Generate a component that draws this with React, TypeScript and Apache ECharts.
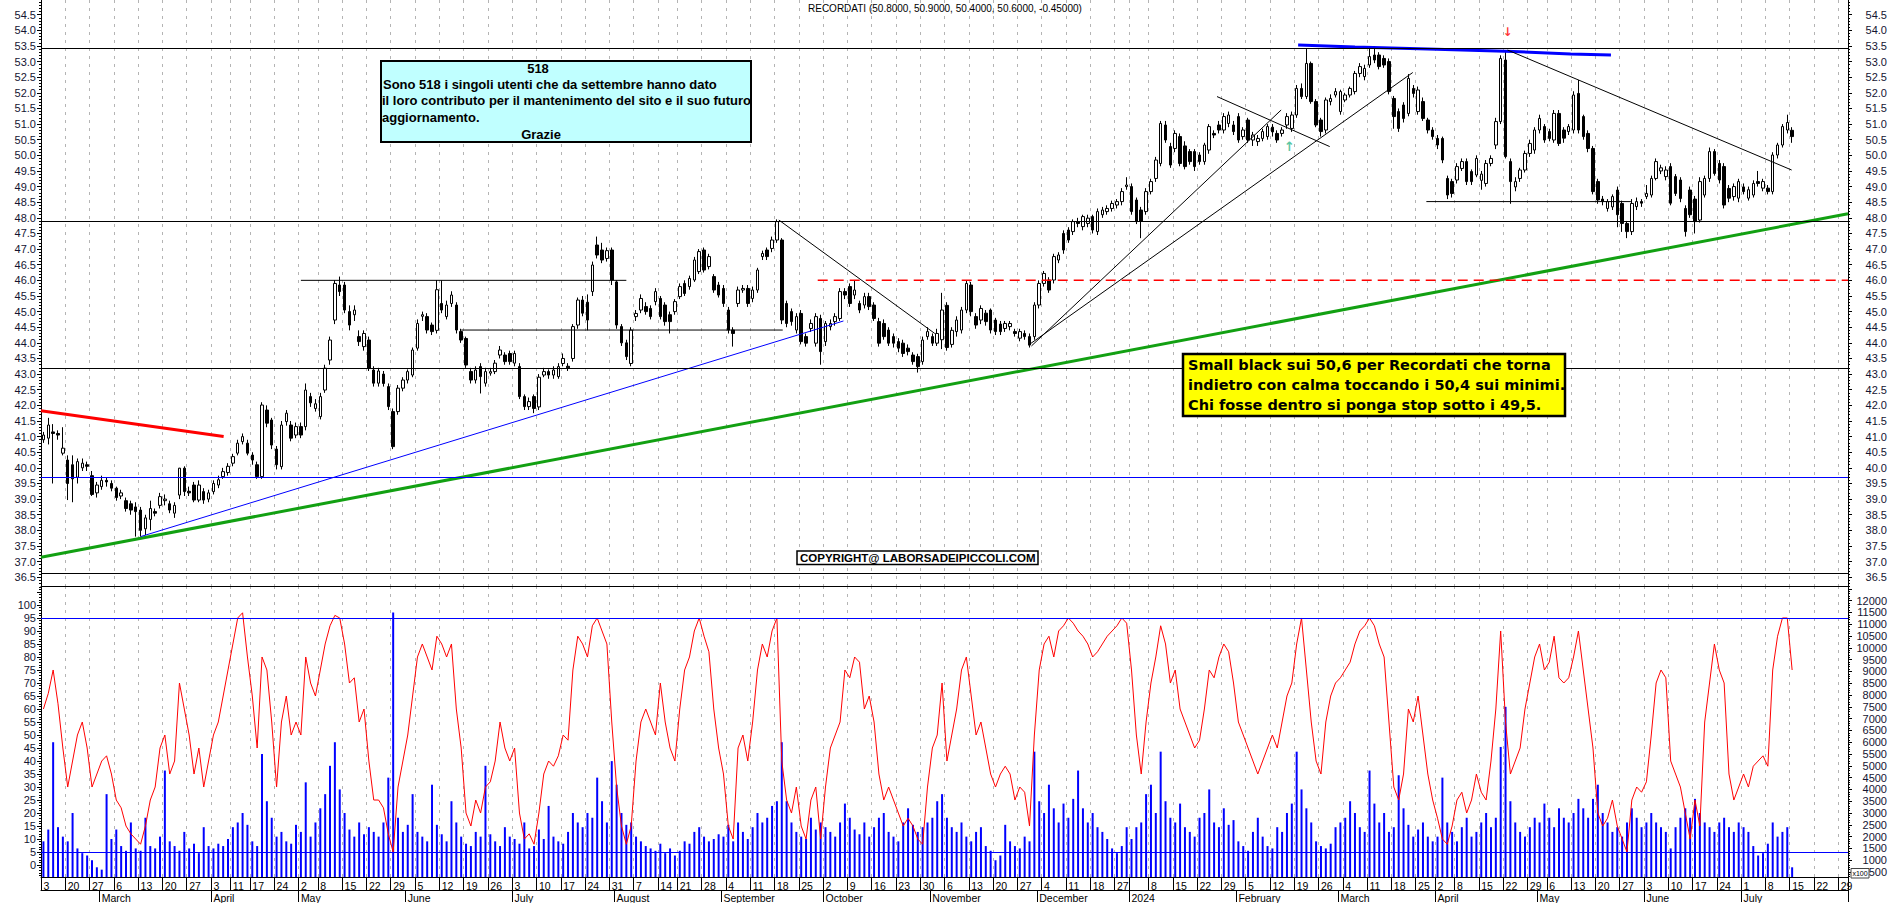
import React, { useEffect, useRef } from 'react';
import * as echarts from 'echarts';

// ---------- calendar (Borsa Italiana trading days) ----------
const FIRST_DAY = [2023, 1, 13];
const LAST_DAY = [2024, 6, 30];
const HOLIDAYS = ['2023-04-07', '2023-04-10', '2023-05-01', '2023-08-15', '2023-12-25', '2023-12-26', '2024-01-01', '2024-03-29', '2024-04-01', '2024-05-01'];
const MONTH_NAMES = ['', 'February', 'March', 'April', 'May', 'June', 'July', 'August', 'September', 'October', 'November', 'December'];
const WEEK_LABEL_OVERRIDES: Record<string, string> = { '2023-02-13': '3', '2024-01-02': '' };

// ---------- candles [open, close, low, high] ----------
const cFeb23 = [[40.9,41.05,40.8,41.15],[40.95,41.37,40.75,41.6],[41.15,41.1,39.5,41.4],[41.1,41.05,40.9,41.2],[40.47,40.63,40.4,41.3],[40.25,39.5,38.97,40.4],[40.1,39.65,38.9,40.4],[39.7,40.2,39.5,40.3],[40.0,40.15,39.9,40.3],[40.1,40.05,39.9,40.2],[39.75,39.15,39.1,39.9],[39.2,39.45,39.05,39.55]];
const cMar23 = [[39.4,39.6,39.3,39.75],[39.6,39.55,39.4,39.7],[39.5,39.35,39.25,39.6],[39.35,39.05,38.95,39.4],[39.1,39.2,39.0,39.3],[38.95,38.7,38.6,39.05],[38.85,38.65,38.5,38.95],[38.75,38.6,37.8,38.9],[38.65,38.0,37.8,38.75],[38.05,38.4,37.85,38.5],[38.35,38.7,38.0,38.95],[38.6,38.55,38.45,38.7],[38.8,39.08,38.7,39.2],[38.95,39.0,38.8,39.15],[38.85,38.65,38.55,38.95],[38.55,38.8,38.4,38.9],[39.13,39.99,39.0,40.0],[39.99,39.24,39.1,40.05],[39.25,39.2,39.1,39.4],[39.45,38.97,38.9,39.55],[38.97,39.45,38.9,39.6],[39.24,38.97,38.85,39.35],[39.0,39.2,38.9,39.3]];
const cApr23 = [[39.24,39.5,39.15,39.6],[39.45,39.62,39.35,39.75],[39.72,39.88,39.65,40.0],[39.85,40.05,39.75,40.15],[40.15,40.36,40.05,40.45],[40.47,40.79,40.4,40.9],[40.84,41.0,40.75,41.1],[40.79,40.47,40.4,40.9],[40.41,40.25,40.1,40.5],[40.1,39.72,39.65,40.2],[39.72,42.01,39.65,42.1],[41.85,41.43,41.3,42.0],[41.53,40.73,40.6,41.6],[40.6,40.1,39.95,40.7],[40.04,41.37,39.95,41.5],[41.48,41.75,41.35,41.85],[41.37,40.95,40.85,41.5],[41.05,41.32,40.95,41.45]];
const cMay23 = [[41.32,41.05,40.95,41.45],[41.32,42.49,41.2,42.7],[42.28,42.08,41.95,42.4],[41.9,42.05,41.8,42.2],[41.64,42.28,41.55,42.4],[42.49,43.19,42.4,43.3],[43.45,44.09,43.3,44.2],[44.73,45.9,44.6,46.0],[45.85,45.64,45.5,46.12],[45.85,45.05,44.95,45.95],[45.0,44.57,44.4,45.2],[44.9,45.05,44.7,45.2],[44.2,44.04,43.9,44.4],[43.88,44.3,43.75,44.4],[44.09,43.19,43.1,44.2],[43.13,42.71,42.6,43.25],[42.71,43.1,42.6,43.2],[43.0,42.7,42.6,43.1],[42.6,41.96,41.85,42.7],[41.8,40.68,40.6,41.9],[41.8,42.55,41.7,42.65],[42.55,42.81,42.45,42.9]];
const cJun23 = [[42.81,43.08,42.7,43.15],[42.97,43.77,42.9,43.85],[43.83,44.62,43.75,44.75],[44.85,44.9,44.7,45.0],[44.84,44.41,44.3,44.95],[44.57,44.36,44.25,44.65],[44.4,45.7,44.3,46.01],[45.26,45.05,44.95,46.0],[44.84,45.21,44.75,45.35],[45.26,45.53,45.15,45.65],[45.21,44.41,44.3,45.3],[44.36,44.09,44.0,44.45],[44.14,43.29,43.2,44.2],[43.08,42.81,42.7,43.2],[42.81,43.13,42.7,43.25],[43.24,42.92,42.38,43.35],[42.71,43.08,42.6,43.2],[43.03,43.08,42.95,43.2],[43.08,43.35,43.0,43.45],[43.61,43.77,43.5,43.9],[43.61,43.4,43.3,43.7],[43.66,43.4,43.3,43.75]];
const cJul23 = [[43.35,43.66,43.25,43.75],[43.24,42.28,42.2,43.35],[42.28,41.96,41.85,42.35],[41.96,42.12,41.85,42.25],[42.28,41.9,41.75,42.35],[41.95,42.9,41.85,43.0],[42.97,43.08,42.9,43.2],[43.08,42.97,42.85,43.15],[42.97,43.13,42.85,43.25],[42.92,43.24,42.85,43.35],[43.34,43.5,43.25,43.66],[43.25,43.2,43.1,43.35],[43.5,44.52,43.4,44.6],[44.57,45.37,44.45,45.45],[45.37,44.95,44.85,45.5],[45.3,44.73,44.4,45.55],[45.64,46.49,45.5,46.6],[47.13,46.81,46.7,47.4],[46.97,46.65,46.55,47.2],[46.7,46.95,46.6,47.05],[46.97,46.01,45.85,47.05]];
const cAug23 = [[45.95,44.57,44.45,46.0],[44.52,44.0,43.9,44.6],[44.0,43.56,43.45,44.1],[43.34,44.41,43.25,44.5],[44.84,44.94,44.7,45.05],[45.05,45.42,44.95,45.55],[45.16,45.0,44.9,45.3],[45.1,44.84,44.75,45.2],[45.32,45.64,45.2,45.75],[45.42,44.84,44.75,45.5],[45.21,44.68,44.55,45.3],[44.9,44.68,44.3,45.0],[45.0,45.32,44.9,45.4],[45.48,45.8,45.4,45.9],[45.9,45.58,45.5,46.0],[45.8,46.06,45.7,46.15],[46.01,46.65,45.95,46.75],[46.28,46.92,46.2,47.0],[46.97,46.33,46.25,47.05],[46.44,46.76,46.35,46.85],[46.12,45.69,45.6,46.2],[45.85,45.53,45.45,45.95]];
const cSep23 = [[45.74,45.26,45.15,45.85],[45.05,44.41,44.3,45.15],[44.41,44.3,43.88,44.5],[45.26,45.69,45.15,45.8],[45.69,45.74,45.6,45.85],[45.74,45.26,45.15,45.85],[45.42,45.69,45.3,45.8],[45.69,46.33,45.6,46.4],[46.76,46.86,46.65,46.95],[46.97,46.76,46.65,47.05],[47.02,47.29,46.9,47.4],[47.29,47.88,47.2,47.95],[47.29,44.73,44.6,47.35],[45.26,44.62,44.5,45.35],[45.0,44.68,44.55,45.1],[44.41,44.84,44.3,44.95],[44.94,44.04,43.95,45.05],[44.2,43.99,43.88,44.3],[44.46,44.62,44.35,44.75],[43.99,44.84,43.88,44.95],[44.78,43.72,43.3,44.9]];
const cOct23 = [[44.04,44.62,43.9,44.7],[44.52,44.62,44.4,44.75],[44.68,44.84,44.55,44.95],[44.78,45.64,44.7,45.75],[45.64,45.53,45.4,45.75],[45.8,45.26,45.15,45.9],[45.53,45.69,45.4,46.0],[45.26,45.05,44.95,45.35],[45.21,45.48,45.1,45.6],[45.48,45.16,45.05,45.6],[45.21,44.78,44.7,45.3],[44.68,43.99,43.88,44.8],[44.62,44.2,44.1,44.75],[44.41,43.99,43.9,44.5],[44.2,43.99,43.85,44.3],[44.04,43.83,43.7,44.15],[43.99,43.66,43.55,44.1],[43.83,43.72,43.6,43.95],[43.61,43.4,43.3,43.7],[43.56,43.24,43.05,43.65],[43.4,44.09,43.3,44.2],[44.2,44.36,44.1,44.5]];
const cNov23 = [[44.2,43.99,43.9,44.3],[43.99,44.3,43.9,44.45],[44.1,45.05,43.8,45.6],[45.2,43.85,43.75,45.3],[43.95,44.4,43.85,44.5],[44.36,44.73,44.2,44.85],[44.41,45.05,44.3,45.15],[45.05,45.9,44.95,46.0],[45.85,45.0,44.85,45.95],[44.84,44.57,44.45,44.95],[44.73,45.1,44.6,45.2],[44.95,44.68,44.55,45.05],[45.05,44.41,44.3,45.1],[44.73,44.36,44.25,44.8],[44.6,44.36,44.25,44.7],[44.46,44.62,44.35,44.7],[44.52,44.62,44.4,44.7],[44.36,44.3,44.2,44.45],[44.15,44.36,44.05,44.45],[44.3,44.2,44.1,44.4],[44.2,43.93,43.85,44.3],[44.2,45.21,44.1,45.3]];
const cDec23 = [[45.21,45.9,45.1,46.0],[45.9,46.22,45.8,46.3],[46.01,45.69,45.6,46.1],[46.01,46.76,45.9,46.85],[46.65,46.81,46.55,46.9],[47.5,46.97,46.85,47.6],[47.61,47.29,47.2,47.7],[47.56,47.88,47.45,47.95],[47.88,47.82,47.7,48.0],[47.72,48.04,47.6,48.1],[47.82,47.99,47.7,48.1],[48.04,47.61,47.5,48.1],[47.56,48.2,47.45,48.3],[48.1,48.25,48.0,48.35],[48.2,48.3,48.1,48.4],[48.3,48.46,48.2,48.55],[48.41,48.52,48.3,48.6],[48.52,48.84,48.4,48.95],[49.0,49.05,48.9,49.3]];
const cJan24 = [[49.0,48.2,48.1,49.1],[48.57,47.88,47.8,48.65],[48.25,47.9,47.35,48.35],[48.2,48.84,48.1,48.95],[48.84,49.16,48.75,49.25],[49.26,49.85,49.15,49.95],[49.74,51.02,49.65,51.1],[50.97,50.49,50.4,51.1],[50.28,49.69,49.6,50.4],[50.22,50.7,50.1,50.8],[50.6,49.74,49.65,50.7],[50.3,49.64,49.55,50.45],[50.12,49.8,49.7,50.2],[50.12,49.64,49.5,50.2],[50.01,49.8,49.7,50.1],[49.8,50.33,49.7,50.4],[50.17,50.92,50.05,51.0],[50.7,50.65,50.55,50.8],[50.97,50.81,50.7,51.1],[50.81,51.24,50.7,51.35],[51.02,51.29,50.9,51.4],[50.97,50.76,50.65,51.1]];
const cFeb24 = [[51.24,50.49,50.4,51.35],[50.6,50.81,50.5,50.9],[51.13,50.49,50.4,51.2],[50.49,50.65,50.3,50.75],[50.44,50.54,50.3,50.65],[50.54,50.76,50.45,50.85],[50.6,50.92,50.5,51.0],[50.9,50.75,50.6,51.0],[50.7,50.49,50.4,50.8],[50.7,50.81,50.6,50.9],[50.97,51.24,50.85,51.35],[50.86,51.29,50.75,51.4],[51.29,52.14,51.2,52.25],[52.14,51.88,51.8,52.3],[51.88,52.94,51.8,53.4],[52.94,51.72,51.65,53.0],[51.72,50.97,50.9,51.8],[51.13,50.76,50.6,51.2],[50.81,51.77,50.7,51.85],[51.72,51.82,51.6,51.95],[51.93,52.04,51.85,52.15]];
const cMar24 = [[51.4,52.04,51.3,52.1],[51.77,51.93,51.7,52.0],[51.93,52.14,51.85,52.2],[52.04,52.62,51.95,52.7],[52.62,52.84,52.5,52.95],[52.52,52.78,52.4,52.9],[52.89,53.16,52.8,53.4],[53.21,53.05,52.95,53.4],[53.21,52.84,52.75,53.3],[53.1,52.89,52.8,53.2],[53.0,52.04,51.95,53.1],[51.82,51.24,50.85,51.9],[51.4,50.86,50.75,51.5],[51.61,51.18,51.05,51.7],[51.34,52.46,51.25,52.6],[52.14,51.98,51.85,52.25],[51.4,52.09,51.3,52.2],[51.72,51.18,51.1,51.85],[51.13,50.81,50.7,51.2],[50.81,50.6,50.5,50.9]];
const cApr24 = [[50.54,50.33,50.2,50.65],[50.54,49.85,49.75,50.6],[49.26,48.73,48.6,49.35],[49.16,48.78,48.65,49.25],[49.21,49.64,49.1,49.75],[49.58,49.8,49.5,49.9],[49.8,49.16,49.05,49.9],[49.48,49.16,49.05,49.55],[49.37,49.9,49.3,50.0],[49.2,49.4,48.9,49.5],[49.1,49.74,49.0,49.85],[49.74,49.9,49.65,50.0],[50.33,51.08,50.2,51.2],[51.08,53.1,51.0,53.2],[53.05,49.96,49.9,53.35],[49.8,49.16,48.45,49.9],[48.99,49.16,48.85,49.3],[49.26,49.53,49.15,49.6],[49.53,50.06,49.45,50.15],[50.06,50.38,49.95,50.5],[50.17,50.81,50.05,50.9]];
const cMay24 = [[50.81,51.18,50.7,51.3],[50.92,50.49,50.4,51.0],[50.76,50.54,50.45,50.85],[50.49,51.34,50.4,51.45],[51.34,50.38,50.3,51.45],[50.81,50.55,50.4,50.9],[50.76,50.92,50.65,51.0],[50.81,51.93,50.7,52.05],[51.98,50.81,50.7,52.41],[51.24,50.6,50.5,51.3],[50.7,50.22,50.1,50.8],[50.22,48.84,48.75,50.3],[49.16,48.57,48.45,49.25],[48.6,48.52,48.4,48.7],[48.3,48.52,48.2,48.6],[48.35,48.68,48.25,48.75],[48.89,48.1,47.7,49.0],[48.46,47.82,47.55,48.55],[47.82,47.56,47.35,47.9],[47.56,48.46,47.45,48.6],[48.36,48.52,48.25,48.65],[48.52,48.47,48.35,48.6]];
const cJun24 = [[48.68,48.78,48.6,49.05],[48.73,49.26,48.65,49.35],[49.26,49.8,49.2,49.9],[49.5,49.6,49.4,49.7],[49.32,49.53,49.2,49.65],[49.64,48.47,48.4,49.75],[49.32,48.78,48.7,49.4],[49.21,48.62,48.5,49.3],[48.3,47.56,47.4,48.4],[48.89,48.1,48.0,49.0],[48.6,47.88,47.5,48.7],[47.93,49.16,47.85,49.3],[48.73,49.26,48.65,49.35],[49.26,50.12,49.15,50.25],[50.12,49.42,49.35,50.2],[49.74,49.21,49.1,49.85],[49.64,48.41,48.3,49.75],[48.94,48.63,48.5,49.05],[48.68,49.0,48.55,49.1],[48.63,49.16,48.5,49.25]];
const cJul24 = [[48.99,48.84,48.75,49.1],[48.63,48.9,48.55,49.0],[48.73,49.1,48.65,49.2],[49.16,49.1,49.0,49.5],[48.95,49.16,48.85,49.25],[48.95,48.84,48.75,49.05],[48.84,50.01,48.75,50.1],[50.01,50.33,49.9,50.4],[50.33,50.92,50.25,51.0],[50.81,51.05,50.7,51.3],[50.8,50.6,50.4,50.9]];

// ---------- oscillator (left scale, 0-100) ----------
const oFeb23 = [60,66,75,62,45,30,40,50,55,45,30,35];
const oMar23 = [40,42,35,25,22,15,12,10,8,15,25,30,45,50,35,40,70,60,50,35,45,30,40];
const oApr23 = [50,55,65,75,85,95,97,80,65,45,80,75,55,30,55,65,50,55];
const oMay23 = [50,80,70,65,75,85,92,96,95,85,70,72,55,60,40,25,25,22,12,5,30,40];
const oJun23 = [50,65,80,85,80,75,88,85,80,85,60,45,20,15,25,20,30,32,40,55,45,40];
const oJul23 = [45,20,10,12,8,20,35,40,38,42,50,48,75,88,85,80,92,95,90,85,55];
const oAug23 = [30,15,8,15,40,55,60,55,50,70,55,45,40,60,75,80,90,95,88,82,60,45];
const oSep23 = [35,15,10,45,50,40,55,75,85,80,90,95,40,25,20,30,15,10,25,30,10];
const oOct23 = [30,45,50,55,75,72,80,78,60,65,55,35,25,30,25,20,15,18,15,10,8,30];
const oNov23 = [45,50,70,40,50,60,75,80,65,50,55,45,35,30,35,38,35,25,30,28,15,50];
const oDec23 = [75,85,88,80,90,92,95,93,90,88,85,80,82,85,88,90,92,95,93];
const oJan24 = [75,50,35,55,70,80,92,85,70,75,60,55,50,45,48,60,75,72,80,85,82,70];
const oFeb24 = [55,50,45,40,35,40,45,50,45,55,65,70,85,95,75,55,40,35,55,65,70];
const oMar24 = [72,75,78,85,90,92,95,92,85,80,55,30,25,35,60,55,65,50,35,25];
const oApr24 = [18,10,8,15,25,28,20,25,35,28,25,40,60,90,55,35,40,45,60,70,80];
const oMay24 = [85,75,78,88,72,70,72,80,90,75,60,45,20,15,18,25,15,10,5,25,30,28];
const oJun24 = [32,50,70,75,72,40,35,30,20,10,25,15,55,70,85,75,70,35,25,30];
const oJul24 = [35,30,38,40,42,38,75,88,95,95,75];

// ---------- volume (x100, right scale) ----------
const vFeb23 = [1800,2300,6000,2400,2000,1800,3000,1500,1300,1200,1000,700];
const vMar23 = [600,3800,1900,2300,1600,1400,2600,1500,1400,2800,1600,1500,2000,4800,1800,1600,1400,2200,1500,1700,1300,2400,1600];
const vApr23 = [1500,1700,1600,1900,2400,2600,3000,2500,1800,1600,5500,3500,2800,2000,2200,1800,1700,2500];
const vMay23 = [2200,4300,2000,2600,3200,3800,5000,6000,4000,3000,2300,2000,2600,2100,2400,2200,2000,2600,4500,11500,2800,2200];
const vJun23 = [2500,3800,2200,2000,1800,4200,2500,2100,1800,3500,2600,2000,1700,1600,2200,2000,5000,2100,1800,1600,2400,2000];
const vJul23 = [1900,1700,2600,1500,1600,2300,1900,3300,2000,1800,1700,2200,3000,2600,2400,3000,2800,4500,3500,2600,5200];
const vAug23 = [4200,3000,2500,2600,2000,1800,1600,1500,1400,1700,1300,1500,1200,1400,1800,1700,2200,2400,2000,1800,1900,2100];
const vSep23 = [2000,2500,1800,2600,2200,1900,2400,3000,2600,2800,3300,3500,6000,3500,2600,2200,2000,1900,2800,2300,2600];
const vOct23 = [2400,2200,2000,2600,3400,2800,2300,2100,2600,2000,2400,2800,3000,2200,2000,1800,2600,3200,2500,2200,2400,2600];
const vNov23 = [2800,3500,3800,2800,2400,2200,2600,2000,1800,2200,2400,1600,1400,1000,1200,2500,1800,1600,1500,2000,1800,5600];
const vDec23 = [3500,3000,4200,3200,2600,3400,2800,3600,4800,3200,2600,3000,2400,2200,1900,1500,1300,1600,2400];
const vJan24 = [1900,2400,2600,3800,4200,3000,5600,3500,2800,2600,3400,2400,2200,2000,2800,3000,4000,2600,2400,3200,2500,2700];
const vFeb24 = [1800,1600,1400,2200,2800,2000,1600,1500,2400,2200,3000,3400,5600,4000,3200,2600,1800,1600,1500,1700,2400];
const vMar24 = [2600,2800,3500,3000,2400,2200,4800,3400,2600,3000,2200,2400,4600,3200,2500,2000,2300,2600,2000,1800];
const vApr24 = [2000,4500,2600,2200,1800,2400,2800,2000,2200,2600,3000,2400,2800,5800,7500,3500,2600,2200,2000,2400,2800];
const vMay24 = [2600,3400,2800,2400,3200,2800,2600,3000,3600,3200,2800,3600,4200,3000,2600,2200,2400,2000,2600,3200,2800,2400];
const vJun24 = [2600,3000,2600,2400,2200,1500,2400,2800,3200,2800,3600,3000,2600,2400,2200,2600,2800,2400,2200,2600];
const vJul24 = [2400,2200,1600,1200,1300,1700,2600,2000,2200,2400,700];

// ---------- drawn levels and trend lines (x = trading-day index, y = price) ----------
const LEVELS_BLACK = [53.42, 47.88, 43.19, 36.62];
const LEVELS_BLUE = [39.7];
const OSC_LEVELS = [5, 95];
const LINE_GREEN = [[-0.5, 37.14], [371.5, 48.13]];
const LINE_RED = [[-0.5, 41.83], [37.1, 41.0]];
const LINE_BLUE = [[20, 37.8], [164.7, 44.7]];
const LINE_BLUE_TOP = [[258.3, 53.53], [270, 53.47], [285, 53.4], [302.6, 53.32], [314.4, 53.24], [322.7, 53.21]];
const LINE_RED_DASH = [[159.4, 46.0], [371.5, 46.0]];
const BLACK_SEGMENTS = [
  [[53, 46.0], [120, 46.0]],
  [[86, 44.41], [152.2, 44.41]],
  [[151.4, 47.93], [183.5, 44.3]],
  [[203.4, 43.9], [254.8, 51.45]],
  [[202.8, 43.93], [281.9, 52.65]],
  [[241.6, 51.88], [264.8, 50.28]],
  [[284.7, 48.52], [326.8, 48.52]],
  [[301.4, 53.37], [359.9, 49.53]],
];
const ARROW_DOWN = [301.4, 53.95];
const ARROW_UP = [256.5, 50.28];

const TITLE = 'RECORDATI (50.8000, 50.9000, 50.4000, 50.6000, -0.45000)';
const NOTE_CYAN = ['Sono 518 i singoli utenti che da settembre hanno dato', 'il loro contributo per il mantenimento del sito e il suo futuro', 'aggiornamento.'];
const NOTE_YELLOW = ['Small black sui 50,6 per Recordati che torna', 'indietro con calma toccando i 50,4 sui minimi.', 'Chi fosse dentro si ponga stop sotto i 49,5.'];

// ---------- derived ----------
const pad = (n: number) => (n < 10 ? '0' + n : '' + n);
function buildDays(): string[] {
  const out: string[] = [];
  const start = Date.UTC(FIRST_DAY[0], FIRST_DAY[1], FIRST_DAY[2]);
  const end = Date.UTC(LAST_DAY[0], LAST_DAY[1], LAST_DAY[2]);
  for (let t = start; t <= end; t += 86400000) {
    const d = new Date(t);
    const wd = d.getUTCDay();
    if (wd === 0 || wd === 6) continue;
    const s = d.getUTCFullYear() + '-' + pad(d.getUTCMonth() + 1) + '-' + pad(d.getUTCDate());
    if (HOLIDAYS.indexOf(s) >= 0) continue;
    out.push(s);
  }
  return out;
}
const DAYS = buildDays();
const dayNum = (s: string) => Math.round(Date.parse(s + 'T00:00:00Z') / 86400000);
const mondayOf = (s: string) => {
  const n = dayNum(s);
  const wd = new Date(n * 86400000).getUTCDay();
  return n - ((wd + 6) % 7);
};
const IS_WEEK = DAYS.map((s, i) => i === 0 || mondayOf(s) !== mondayOf(DAYS[i - 1]));
const IS_MONTH = DAYS.map((s, i) => i > 0 && s.slice(0, 7) !== DAYS[i - 1].slice(0, 7));
const weekLabel = (s: string) => (s in WEEK_LABEL_OVERRIDES ? WEEK_LABEL_OVERRIDES[s] : String(parseInt(s.slice(8, 10), 10)));
const monthLabel = (s: string) => {
  const m = parseInt(s.slice(5, 7), 10);
  return m === 1 ? s.slice(0, 4) : MONTH_NAMES[m - 1];
};

const CANDLES = [...cFeb23, ...cMar23, ...cApr23, ...cMay23, ...cJun23, ...cJul23, ...cAug23, ...cSep23, ...cOct23, ...cNov23, ...cDec23, ...cJan24, ...cFeb24, ...cMar24, ...cApr24, ...cMay24, ...cJun24, ...cJul24];
const OSC = [...oFeb23, ...oMar23, ...oApr23, ...oMay23, ...oJun23, ...oJul23, ...oAug23, ...oSep23, ...oOct23, ...oNov23, ...oDec23, ...oJan24, ...oFeb24, ...oMar24, ...oApr24, ...oMay24, ...oJun24, ...oJul24];
const VOL = [...vFeb23, ...vMar23, ...vApr23, ...vMay23, ...vJun23, ...vJul23, ...vAug23, ...vSep23, ...vOct23, ...vNov23, ...vDec23, ...vJan24, ...vFeb24, ...vMar24, ...vApr24, ...vMay24, ...vJun24, ...vJul24];

function steps(a: number, b: number, st: number): number[] {
  const r: number[] = [];
  for (let k = 0; a + k * st <= b + 1e-9; k++) r.push(Math.round((a + k * st) * 1000) / 1000);
  return r;
}

const FONT = '"Liberation Sans", Arial, sans-serif';
const LABEL_COLOR = '#141432';
const PRICE_MIN = 36.22, PRICE_MAX = 54.97;
const OSC_MIN = -4.6, OSC_MAX = 107.3;
const VOL_MIN = 289, VOL_MAX = 12620;

function yAx(grid: number, pos: 'left' | 'right', min: number, max: number, ticks: number[], len: number, labels: number[] | null, fmt?: (v: number) => string): any {
  return {
    type: 'value', gridIndex: grid, position: pos, min, max,
    axisLine: { show: true, onZero: false, lineStyle: { color: '#000', width: 1 } },
    axisTick: { show: true, customValues: ticks, length: len, lineStyle: { color: '#000', width: 1 } },
    axisLabel: labels
      ? { show: true, customValues: labels, formatter: fmt, color: LABEL_COLOR, fontSize: 11, fontFamily: FONT, align: 'right', margin: pos === 'right' ? 39 : 5 }
      : { show: false },
    splitLine: { show: false },
  };
}

const dashed = { show: true, interval: (i: number) => IS_WEEK[i], lineStyle: { color: '#b4b4b4', type: [3, 5], width: 1 } };

function segSeries(data: number[][], color: string, width: number, type: any = 'solid'): any {
  return {
    type: 'line', xAxisIndex: 1, yAxisIndex: 0, data, symbol: 'none', silent: true,
    lineStyle: { color, width, type }, z: 4,
  };
}

const option: any = {
  animation: false,
  backgroundColor: '#ffffff',
  title: {
    text: TITLE, left: 808, top: 3, padding: 0,
    textStyle: { fontSize: 10, fontWeight: 'normal', color: '#000', fontFamily: FONT },
  },
  grid: [
    { left: 41, right: 41, top: 0, height: 586 },
    { left: 41, right: 41, top: 586, height: 292 },
  ],
  xAxis: [
    {
      type: 'category', gridIndex: 0, position: 'bottom', data: DAYS, boundaryGap: true,
      axisLine: { show: true, onZero: false, lineStyle: { color: '#000' } },
      axisTick: { show: false }, axisLabel: { show: false }, splitLine: dashed,
    },
    { type: 'value', gridIndex: 0, position: 'top', min: -0.5, max: DAYS.length - 0.5, show: false },
    {
      type: 'category', gridIndex: 1, position: 'bottom', data: DAYS, boundaryGap: true,
      axisLine: { show: true, onZero: false, lineStyle: { color: '#000' } },
      axisTick: { show: true, interval: (i: number) => IS_WEEK[i], length: 13, lineStyle: { color: '#000' } },
      axisLabel: {
        show: true, interval: (i: number) => IS_WEEK[i], formatter: (v: string) => weekLabel(v),
        align: 'left', margin: 3, color: '#000', fontSize: 10.5, fontFamily: FONT,
      },
      splitLine: dashed,
    },
    {
      type: 'category', gridIndex: 1, position: 'bottom', data: DAYS, boundaryGap: true, offset: 13,
      axisLine: { show: true, onZero: false, lineStyle: { color: '#000' } },
      axisTick: { show: true, interval: (i: number) => IS_MONTH[i], length: 12, lineStyle: { color: '#000' } },
      axisLabel: {
        show: true, interval: (i: number) => IS_MONTH[i], formatter: (v: string) => monthLabel(v),
        align: 'left', margin: 2, color: '#000', fontSize: 10.5, fontFamily: FONT,
      },
      splitLine: { show: false },
    },
  ],
  yAxis: [
    yAx(0, 'left', PRICE_MIN, PRICE_MAX, steps(36.5, 54.5, 0.5), 4, steps(36.5, 54.5, 0.5), (v) => v.toFixed(1)),
    yAx(0, 'left', PRICE_MIN, PRICE_MAX, steps(36.3, 54.9, 0.1), 2, null),
    yAx(0, 'right', PRICE_MIN, PRICE_MAX, steps(36.5, 54.5, 0.5), 4, steps(36.5, 54.5, 0.5), (v) => v.toFixed(1)),
    yAx(0, 'right', PRICE_MIN, PRICE_MAX, steps(36.3, 54.9, 0.1), 2, null),
    yAx(1, 'left', OSC_MIN, OSC_MAX, steps(0, 105, 5), 4, steps(0, 100, 5), (v) => String(v)),
    yAx(1, 'left', OSC_MIN, OSC_MAX, steps(-4, 107, 1), 2, null),
    yAx(1, 'right', VOL_MIN, VOL_MAX, steps(500, 12500, 500), 4, steps(500, 12000, 500), (v) => String(v)),
    yAx(1, 'right', VOL_MIN, VOL_MAX, steps(300, 12600, 100), 2, null),
  ],
  series: [
    {
      type: 'candlestick', xAxisIndex: 0, yAxisIndex: 0, data: CANDLES, barWidth: 3,
      itemStyle: { color: '#ffffff', color0: '#000000', borderColor: '#000000', borderColor0: '#000000', borderWidth: 1 },
      markLine: {
        silent: true, symbol: ['none', 'none'], label: { show: false }, animation: false,
        data: [
          ...LEVELS_BLACK.map((v) => ({ yAxis: v, lineStyle: { color: '#000', width: 1, type: 'solid' } })),
          ...LEVELS_BLUE.map((v) => ({ yAxis: v, lineStyle: { color: '#0000ff', width: 1, type: 'solid' } })),
        ],
      },
      z: 3,
    },
    segSeries(LINE_GREEN, '#12a012', 3),
    segSeries(LINE_RED, '#ff0000', 3),
    segSeries(LINE_BLUE, '#0000ff', 1),
    segSeries(LINE_BLUE_TOP, '#0000ff', 3),
    segSeries(LINE_RED_DASH, '#ff0000', 1.5, [10, 6]),
    ...BLACK_SEGMENTS.map((s) => segSeries(s, '#000000', 1)),
    {
      type: 'scatter', xAxisIndex: 1, yAxisIndex: 0, data: [ARROW_DOWN], symbolSize: 1,
      itemStyle: { color: 'rgba(0,0,0,0)' }, silent: true,
      label: { show: true, formatter: '↓', position: 'inside', color: '#ff0000', fontSize: 12, fontWeight: 'bold', fontFamily: '"DejaVu Sans"' },
    },
    {
      type: 'scatter', xAxisIndex: 1, yAxisIndex: 0, data: [ARROW_UP], symbolSize: 1,
      itemStyle: { color: 'rgba(0,0,0,0)' }, silent: true,
      label: { show: true, formatter: '↑', position: 'inside', color: '#2fb88a', fontSize: 13, fontWeight: 'bold', fontFamily: '"DejaVu Sans"' },
    },
    {
      type: 'bar', xAxisIndex: 2, yAxisIndex: 6, data: VOL, barWidth: 2, silent: true,
      itemStyle: { color: '#0000ff' },
    },
    {
      type: 'line', xAxisIndex: 2, yAxisIndex: 4, data: OSC, symbol: 'none', silent: true,
      lineStyle: { color: '#ff0000', width: 1 },
      markLine: {
        silent: true, symbol: ['none', 'none'], label: { show: false },
        data: OSC_LEVELS.map((v) => ({ yAxis: v, lineStyle: { color: '#0000ff', width: 1, type: 'solid' } })),
      },
      z: 4,
    },
  ],
  graphic: [
    { type: 'rect', shape: { x: 381, y: 61, width: 370, height: 81 }, style: { fill: '#c0ffff', stroke: '#000', lineWidth: 2 }, z: 10 },
    { type: 'text', x: 538, y: 68, style: { text: '518', font: 'bold 13px "Liberation Sans"', fill: '#000', align: 'center', verticalAlign: 'middle' }, z: 11 },
    ...NOTE_CYAN.map((t, i) => ({ type: 'text', x: i === 0 ? 383 : 382, y: 84 + i * 16.5, style: { text: t, font: 'bold 13px "Liberation Sans"', fill: '#000', align: 'left', verticalAlign: 'middle' }, z: 11 })),
    { type: 'text', x: 541, y: 134, style: { text: 'Grazie', font: 'bold 13px "Liberation Sans"', fill: '#000', align: 'center', verticalAlign: 'middle' }, z: 11 },
    { type: 'rect', shape: { x: 1183, y: 354, width: 382, height: 62 }, style: { fill: '#ffff00', stroke: '#000', lineWidth: 2.5 }, z: 10 },
    ...NOTE_YELLOW.map((t, i) => ({ type: 'text', x: 1188, y: 365 + i * 20, style: { text: t, font: 'bold 14.5px "DejaVu Sans"', fill: '#000', align: 'left', verticalAlign: 'middle' }, z: 11 })),
    { type: 'rect', shape: { x: 797, y: 551, width: 241, height: 13.5 }, style: { fill: '#fff', stroke: '#000', lineWidth: 1.5 }, z: 10 },
    { type: 'text', x: 800, y: 558, style: { text: 'COPYRIGHT@ LABORSADEIPICCOLI.COM', font: 'bold 11.5px "Liberation Sans"', fill: '#000', align: 'left', verticalAlign: 'middle' }, z: 11 },
    { type: 'rect', shape: { x: 1851, y: 868.5, width: 18, height: 9.5 }, style: { fill: '#fff', stroke: '#444', lineWidth: 1 }, z: 10 },
    { type: 'text', x: 1860, y: 873.5, style: { text: 'x100', font: '7px "Liberation Sans"', fill: '#000', align: 'center', verticalAlign: 'middle' }, z: 11 },
  ],
};

export default function App() {
  const ref = useRef<HTMLDivElement>(null);
  useEffect(() => {
    document.body.style.margin = '0';
    const chart = echarts.init(ref.current as HTMLDivElement, undefined, { renderer: 'svg' });
    chart.setOption(option);
    return () => chart.dispose();
  }, []);
  return <div ref={ref} style={{ position: 'fixed', left: 0, top: 0, width: 1890, height: 903, background: '#fff' }} />;
}
